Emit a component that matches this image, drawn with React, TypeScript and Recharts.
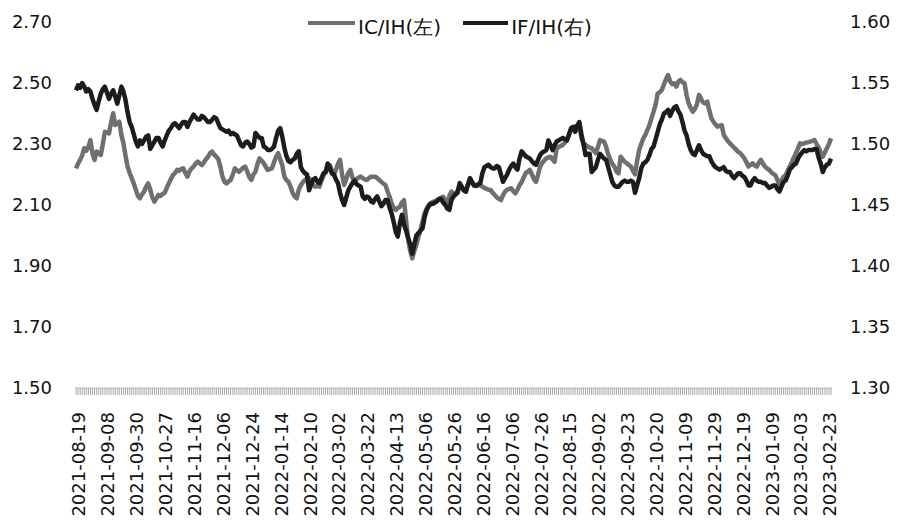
import React from "react";
import { LineChart, Line, XAxis, YAxis } from "recharts";

// Tick labels: one every 14 trading days
const tickLabels: string[] = [
  "2021-08-19", "2021-09-08", "2021-09-30", "2021-10-27", "2021-11-16", "2021-12-06",
  "2021-12-24", "2022-01-14", "2022-02-10", "2022-03-02", "2022-03-22", "2022-04-13",
  "2022-05-06", "2022-05-26", "2022-06-16", "2022-07-06", "2022-07-26", "2022-08-15",
  "2022-09-02", "2022-09-23", "2022-10-20", "2022-11-09", "2022-11-29", "2022-12-19",
  "2023-01-09", "2023-02-03", "2023-02-23",
];

// IC/IH (left axis)
const icIh: number[] = [
  2.220, 2.236, 2.248, 2.262, 2.286, 2.278, 2.290, 2.313, 2.268, 2.248, 2.275, 2.270, 2.264, 2.300,
  2.340, 2.338, 2.335, 2.370, 2.401, 2.362, 2.368, 2.373, 2.330, 2.302, 2.262, 2.226, 2.205, 2.188,
  2.171, 2.150, 2.130, 2.122, 2.135, 2.144, 2.160, 2.171, 2.150, 2.125, 2.111, 2.122, 2.133, 2.130,
  2.136, 2.140, 2.156, 2.171, 2.185, 2.198, 2.205, 2.215, 2.212, 2.218, 2.220, 2.205, 2.193, 2.210,
  2.220, 2.226, 2.236, 2.242, 2.236, 2.231, 2.240, 2.250, 2.258, 2.270, 2.275, 2.265, 2.258, 2.250,
  2.225, 2.193, 2.176, 2.171, 2.178, 2.182, 2.200, 2.220, 2.214, 2.209, 2.215, 2.222, 2.226, 2.210,
  2.192, 2.182, 2.200, 2.209, 2.235, 2.253, 2.245, 2.237, 2.225, 2.215, 2.218, 2.220, 2.240, 2.258,
  2.270, 2.250, 2.230, 2.193, 2.182, 2.176, 2.160, 2.140, 2.128, 2.122, 2.150, 2.165, 2.175, 2.182,
  2.186, 2.188, 2.178, 2.165, 2.160, 2.162, 2.160, 2.180, 2.198, 2.206, 2.220, 2.231, 2.212, 2.198,
  2.215, 2.235, 2.248, 2.200, 2.166, 2.185, 2.205, 2.215, 2.190, 2.176, 2.185, 2.190, 2.193, 2.188,
  2.184, 2.182, 2.188, 2.193, 2.193, 2.193, 2.188, 2.182, 2.176, 2.170, 2.166, 2.145, 2.127, 2.105,
  2.090, 2.084, 2.090, 2.094, 2.108, 2.116, 2.051, 1.990, 1.950, 1.925, 1.950, 1.970, 1.995, 2.018,
  2.045, 2.073, 2.088, 2.100, 2.106, 2.110, 2.113, 2.116, 2.120, 2.124, 2.127, 2.115, 2.106, 2.130,
  2.144, 2.138, 2.133, 2.148, 2.162, 2.155, 2.148, 2.144, 2.165, 2.182, 2.172, 2.163, 2.162, 2.164,
  2.166, 2.160, 2.156, 2.153, 2.150, 2.149, 2.140, 2.133, 2.125, 2.120, 2.116, 2.132, 2.144, 2.150,
  2.153, 2.155, 2.145, 2.138, 2.150, 2.165, 2.175, 2.190, 2.204, 2.210, 2.215, 2.200, 2.185, 2.176,
  2.200, 2.226, 2.238, 2.246, 2.253, 2.256, 2.258, 2.250, 2.242, 2.286, 2.290, 2.294, 2.297, 2.305,
  2.313, 2.330, 2.346, 2.352, 2.357, 2.360, 2.362, 2.320, 2.302, 2.297, 2.292, 2.288, 2.286, 2.278,
  2.270, 2.290, 2.313, 2.310, 2.308, 2.290, 2.266, 2.248, 2.235, 2.226, 2.210, 2.204, 2.258, 2.250,
  2.242, 2.237, 2.231, 2.226, 2.212, 2.200, 2.245, 2.280, 2.300, 2.318, 2.330, 2.346, 2.362, 2.385,
  2.406, 2.430, 2.466, 2.470, 2.477, 2.495, 2.512, 2.526, 2.505, 2.496, 2.499, 2.488, 2.505, 2.510,
  2.503, 2.499, 2.460, 2.433, 2.418, 2.406, 2.415, 2.430, 2.461, 2.448, 2.436, 2.433, 2.439, 2.410,
  2.385, 2.373, 2.364, 2.357, 2.360, 2.362, 2.330, 2.319, 2.310, 2.302, 2.295, 2.288, 2.282, 2.274,
  2.270, 2.262, 2.253, 2.240, 2.226, 2.232, 2.237, 2.230, 2.226, 2.238, 2.248, 2.236, 2.226, 2.220,
  2.215, 2.208, 2.202, 2.198, 2.182, 2.166, 2.180, 2.192, 2.198, 2.212, 2.226, 2.240, 2.256, 2.270,
  2.286, 2.302, 2.300, 2.302, 2.305, 2.306, 2.308, 2.310, 2.313, 2.300, 2.288, 2.272, 2.258, 2.272,
  2.286, 2.300, 2.319,
];

// IF/IH (right axis)
const ifIh: number[] = [
  1.544, 1.548, 1.546, 1.550, 1.547, 1.543, 1.545, 1.543, 1.537, 1.532, 1.528, 1.535, 1.541, 1.545,
  1.547, 1.542, 1.537, 1.541, 1.544, 1.539, 1.533, 1.540, 1.547, 1.543, 1.536, 1.526, 1.518, 1.514,
  1.508, 1.502, 1.498, 1.503, 1.500, 1.503, 1.506, 1.507, 1.496, 1.499, 1.502, 1.505, 1.505, 1.501,
  1.498, 1.503, 1.507, 1.511, 1.513, 1.516, 1.517, 1.515, 1.513, 1.516, 1.518, 1.518, 1.514, 1.518,
  1.521, 1.524, 1.522, 1.520, 1.520, 1.523, 1.522, 1.520, 1.518, 1.518, 1.520, 1.522, 1.521, 1.517,
  1.513, 1.512, 1.511, 1.510, 1.511, 1.508, 1.509, 1.508, 1.507, 1.503, 1.499, 1.498, 1.501, 1.502,
  1.500, 1.497, 1.498, 1.509, 1.507, 1.505, 1.505, 1.498, 1.497, 1.495, 1.495, 1.496, 1.498, 1.505,
  1.511, 1.513, 1.506, 1.497, 1.490, 1.486, 1.485, 1.487, 1.488, 1.492, 1.494, 1.481, 1.478, 1.476,
  1.475, 1.462, 1.467, 1.471, 1.472, 1.469, 1.468, 1.472, 1.476, 1.477, 1.484, 1.481, 1.476, 1.475,
  1.471, 1.468, 1.460, 1.454, 1.450, 1.456, 1.462, 1.465, 1.468, 1.470, 1.467, 1.466, 1.465, 1.457,
  1.455, 1.457, 1.456, 1.453, 1.452, 1.455, 1.457, 1.453, 1.449, 1.451, 1.454, 1.454, 1.448, 1.443,
  1.436, 1.428, 1.424, 1.435, 1.442, 1.434, 1.429, 1.423, 1.418, 1.410, 1.418, 1.425, 1.427, 1.429,
  1.431, 1.440, 1.446, 1.449, 1.451, 1.451, 1.452, 1.453, 1.455, 1.455, 1.452, 1.450, 1.447, 1.446,
  1.454, 1.457, 1.459, 1.460, 1.468, 1.465, 1.462, 1.461, 1.467, 1.472, 1.469, 1.466, 1.466, 1.467,
  1.468, 1.476, 1.481, 1.482, 1.483, 1.481, 1.480, 1.480, 1.482, 1.481, 1.475, 1.469, 1.472, 1.475,
  1.479, 1.482, 1.484, 1.481, 1.479, 1.488, 1.494, 1.492, 1.490, 1.489, 1.488, 1.486, 1.484, 1.483,
  1.487, 1.491, 1.493, 1.494, 1.495, 1.503, 1.499, 1.495, 1.499, 1.502, 1.503, 1.504, 1.505, 1.504,
  1.503, 1.508, 1.513, 1.514, 1.510, 1.515, 1.518, 1.508, 1.500, 1.491, 1.492, 1.492, 1.477, 1.479,
  1.481, 1.487, 1.492, 1.490, 1.488, 1.487, 1.481, 1.475, 1.469, 1.466, 1.465, 1.465, 1.467, 1.469,
  1.470, 1.469, 1.469, 1.470, 1.469, 1.460, 1.466, 1.472, 1.480, 1.484, 1.485, 1.487, 1.491, 1.496,
  1.498, 1.504, 1.510, 1.516, 1.520, 1.525, 1.526, 1.528, 1.523, 1.527, 1.530, 1.531, 1.527, 1.524,
  1.518, 1.511, 1.507, 1.500, 1.495, 1.492, 1.491, 1.495, 1.499, 1.495, 1.492, 1.491, 1.490, 1.490,
  1.486, 1.483, 1.481, 1.480, 1.479, 1.480, 1.481, 1.478, 1.477, 1.477, 1.474, 1.472, 1.474, 1.476,
  1.476, 1.474, 1.473, 1.470, 1.466, 1.466, 1.470, 1.472, 1.470, 1.469, 1.469, 1.468, 1.468, 1.466,
  1.464, 1.465, 1.466, 1.466, 1.463, 1.461, 1.465, 1.469, 1.470, 1.474, 1.479, 1.481, 1.483, 1.484,
  1.488, 1.491, 1.493, 1.495, 1.494, 1.495, 1.495, 1.495, 1.496, 1.496, 1.489, 1.484, 1.477, 1.481,
  1.483, 1.484, 1.488,
];

const leftTicks: number[] = [1.5, 1.7, 1.9, 2.1, 2.3, 2.5, 2.7];
const rightTicks: number[] = [1.3, 1.35, 1.4, 1.45, 1.5, 1.55, 1.6];

const seriesNames = { ic: "IC/IH(左)", iff: "IF/IH(右)" };
const LABEL_STEP = 14;

const data = icIh.map((v, i) => ({ idx: i, ic: v, iff: ifIh[i] }));

const FONT = "'DejaVu Sans', sans-serif";
const GRAY = "#6f6f6f";
const BLACK = "#1c1c1c";

const XTick = (props: any) => {
  const { x, y, payload } = props;
  const i = payload.value as number;
  if (i % LABEL_STEP !== 0) return null;
  const label = tickLabels[i / LABEL_STEP];
  if (!label) return null;
  const tx = x + 3;
  return (
    <text
      x={tx}
      y={y}
      transform={`rotate(-90, ${tx}, ${y})`}
      textAnchor="end"
      dy="0.36em"
      fontSize={18}
      fontFamily={FONT}
      fill="#111"
    >
      {label}
    </text>
  );
};

export default function App() {
  return (
    <div style={{ position: "absolute", left: 0, top: 0, width: 900, height: 532, background: "#fff" }}>
      <LineChart width={900} height={532} data={data} margin={{ top: 22, right: 0, bottom: 0, left: 0 }}>
        <XAxis
          dataKey="idx"
          type="category"
          interval={0}
          height={144}
          padding={{ left: 1, right: 1 }}
          tick={<XTick />}
          tickSize={7}
          tickMargin={17}
          tickLine={{ stroke: "#a8a8a8", strokeWidth: 1 }}
          axisLine={{ stroke: "#bdbdbd", strokeWidth: 1 }}
        />
        <YAxis
          yAxisId="left"
          orientation="left"
          width={75}
          domain={[1.5, 2.7]}
          ticks={leftTicks}
          tickFormatter={(v: number) => v.toFixed(2)}
          tickLine={false}
          axisLine={false}
          tickSize={0}
          tickMargin={23}
          tick={{ fontSize: 18, fill: "#111", fontFamily: FONT }}
          allowDataOverflow
        />
        <YAxis
          yAxisId="right"
          orientation="right"
          width={68}
          domain={[1.3, 1.6]}
          ticks={rightTicks}
          tickFormatter={(v: number) => v.toFixed(2)}
          tickLine={false}
          axisLine={false}
          tickSize={0}
          tickMargin={18}
          tick={{ fontSize: 18, fill: "#111", fontFamily: FONT, textAnchor: "start" }}
          allowDataOverflow
        />
        <Line
          yAxisId="left"
          dataKey="ic"
          name={seriesNames.ic}
          stroke={GRAY}
          strokeWidth={4.5}
          dot={false}
          activeDot={false}
          isAnimationActive={false}
          strokeLinejoin="round"
        />
        <Line
          yAxisId="right"
          dataKey="iff"
          name={seriesNames.iff}
          stroke={BLACK}
          strokeWidth={4.5}
          dot={false}
          activeDot={false}
          isAnimationActive={false}
          strokeLinejoin="round"
        />
      </LineChart>
      <div
        style={{
          position: "absolute",
          left: 306,
          top: 14,
          display: "flex",
          alignItems: "center",
          fontFamily: FONT,
          fontSize: 20,
          color: "#111",
          whiteSpace: "nowrap",
        }}
      >
        <svg width={50} height={20} style={{ marginTop: -10 }}>
          <line x1={2} y1={10} x2={49} y2={10} stroke={GRAY} strokeWidth={4} />
        </svg>
        <span style={{ marginLeft: 2 }}>{seriesNames.ic}</span>
        <svg width={50} height={20} style={{ marginLeft: 20, marginTop: -10 }}>
          <line x1={2} y1={10} x2={47} y2={10} stroke={BLACK} strokeWidth={4} />
        </svg>
        <span>{seriesNames.iff}</span>
      </div>
    </div>
  );
}
